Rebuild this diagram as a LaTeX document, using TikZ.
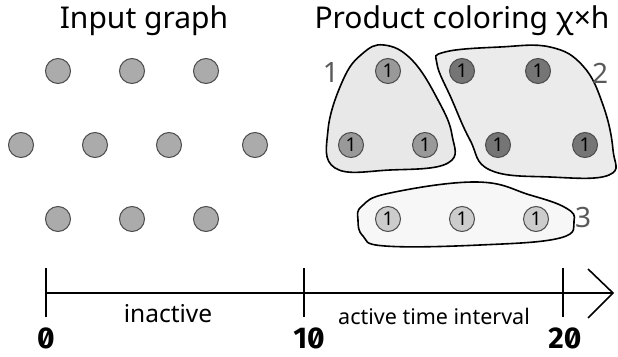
\documentclass[tikz,border=0pt]{standalone}
\usepackage{fontspec}
\setmainfont{Noto Sans}
\newfontfamily\monof[RawFeature=+zero]{Fira Sans}
\begin{document}
\begin{tikzpicture}[x=1pt,y=-1pt,
  gdot/.style={circle,draw=black!70,line width=1pt,minimum size=25pt,inner sep=0pt,fill=black!33},
  cdot/.style={circle,draw=black!70,line width=1pt,minimum size=25pt,inner sep=0pt,fill=#1,
    font=\fontsize{19}{19}\selectfont},
  blob/.style={draw=black,line width=1.6pt,fill=#1},
  glabel/.style={text=black!65,font=\fontsize{28}{28}\selectfont},
  title/.style={font=\fontsize{30}{30}\selectfont},
  axis/.style={line width=1.6pt},
  num/.style={font=\monof\bfseries\fontsize{30}{30}\selectfont,inner sep=0pt,anchor=base}]
\useasboundingbox (0,0) rectangle (618,356);

% titles
\node[title] (t1) at (144,21) {Input graph};
\node[title] (t2) at (462,21) {Product coloring χ×h};

% input graph
\node[gdot] (a1) at (58,71) {};
\node[gdot] (a2) at (132,71) {};
\node[gdot] (a3) at (206,71) {};
\node[gdot] (a4) at (21,145) {};
\node[gdot] (a5) at (95,145) {};
\node[gdot] (a6) at (169,145) {};
\node[gdot] (a7) at (255,145) {};
\node[gdot] (a8) at (58,219) {};
\node[gdot] (a9) at (132,219) {};
\node[gdot] (a10) at (206,219) {};

% blobs
\draw[blob=black!9] plot[smooth cycle, tension=0.7] coordinates
  {(384,45) (412,60) (438,100) (452,135) (448,163) (390,170) (335,168) (328,130) (343,80) (362,54)};
\draw[blob=black!8] plot[smooth cycle, tension=0.7] coordinates
  {(445,52) (500,47) (550,47) (583,66) (603,105) (613,150) (609,175) (550,177) (490,170) (470,140) (452,100) (437,64)};
\draw[blob=black!3] plot[smooth cycle, tension=0.7] coordinates
  {(362,206) (390,193) (477,182) (530,195) (566,208) (574,221) (560,238) (480,245) (385,246) (363,236) (358,220)};

% cluster labels
\node[glabel] (l1) at (331,73) {1};
\node[glabel] (l2) at (600,73) {2};
\node[glabel] (l3) at (583,218) {3};

% clustered nodes
\node[cdot=black!40] (b1) at (388,71) {1};
\node[cdot=black!40] (b2) at (351,145) {1};
\node[cdot=black!40] (b3) at (425,145) {1};
\node[cdot=black!54] (c1) at (462,71) {1};
\node[cdot=black!54] (c2) at (538,71) {1};
\node[cdot=black!54] (c3) at (498,145) {1};
\node[cdot=black!54] (c4) at (585,145) {1};
\node[cdot=black!20] (d1) at (388,219) {1};
\node[cdot=black!20] (d2) at (462,219) {1};
\node[cdot=black!20] (d3) at (536,219) {1};

% timeline
\coordinate (s) at (46,293);
\coordinate (e) at (613,293);
\coordinate (k0a) at (46,268);
\coordinate (k0b) at (46,317);
\coordinate (k1a) at (304,268);
\coordinate (k1b) at (304,317);
\coordinate (k2a) at (563,268);
\coordinate (k2b) at (563,317);
\coordinate (h1) at (588,269);
\coordinate (h2) at (588,318);
\draw[axis] (s) -- (e);
\draw[axis] (k0a) -- (k0b);
\draw[axis] (k1a) -- (k1b);
\draw[axis] (k2a) -- (k2b);
\draw[axis] (h1) -- (e) -- (h2);

\node[font=\fontsize{24.5}{24.5}\selectfont] (in) at (168,314) {inactive};
\node[font=\fontsize{21.5}{21.5}\selectfont] (ac) at (434,316) {active time interval};
\node[num] (n0) at (46,348) {0};
\node[num] (n10) at (309,348) {10};
\node[num] (n20) at (565,348) {20};
\end{tikzpicture}
\end{document}
